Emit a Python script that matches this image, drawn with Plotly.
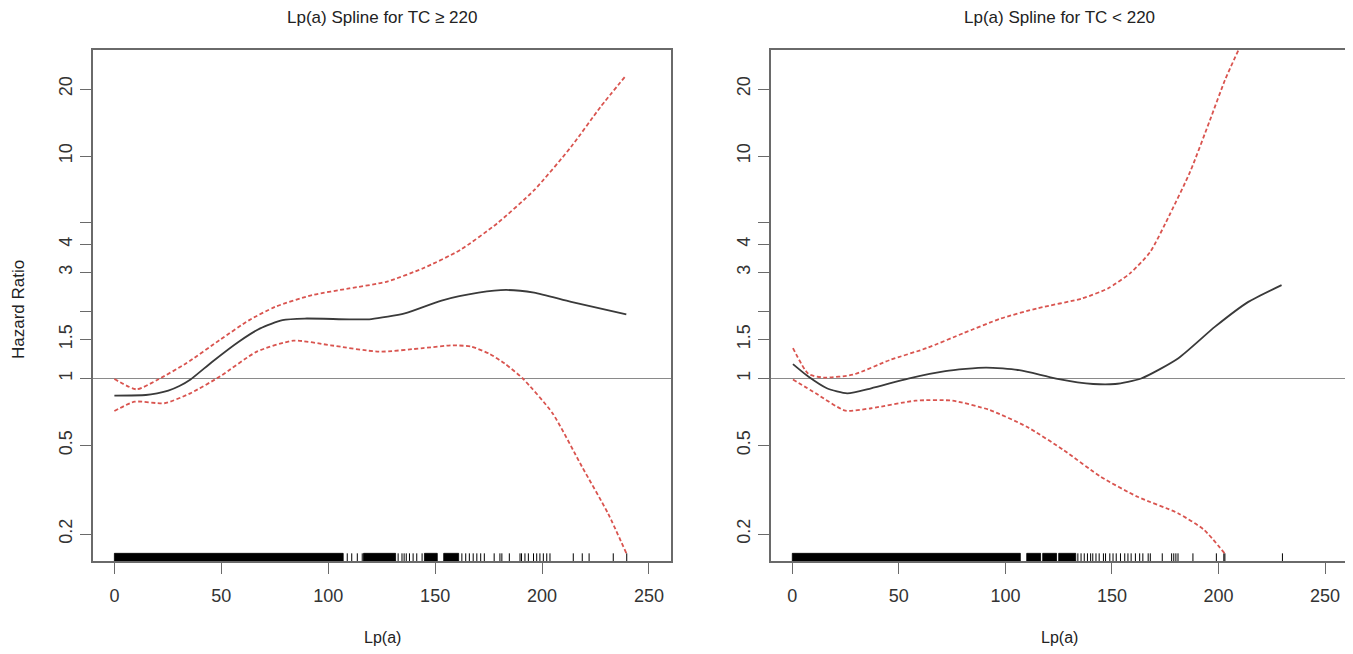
import plotly.graph_objects as go
import math

# ---------------- data ----------------
# Left panel: TC >= 220
left_x = [0, 14.7, 20, 25.2, 30.4, 35.6, 45.8, 58, 68.2, 78.6, 89, 109.8, 120.2, 135.8, 153, 170.3, 183.2, 196.3, 213.6, 239.4]
left_hr = [0.837, 0.843, 0.858, 0.882, 0.925, 0.99, 1.19, 1.46, 1.68, 1.83, 1.86, 1.845, 1.85, 1.96, 2.24, 2.43, 2.50, 2.43, 2.21, 1.94]

left_up_x = [0, 10.4, 20, 33.6, 49.3, 63.1, 75.2, 92.5, 109.8, 127.1, 144.4, 161.7, 179, 196.3, 213.6, 227.3, 239.4]
left_up = [0.995, 0.894, 0.985, 1.17, 1.49, 1.83, 2.10, 2.37, 2.54, 2.72, 3.13, 3.78, 4.98, 7.02, 11.0, 16.6, 23.1]

left_lo_x = [0, 9.5, 23.4, 35.5, 49.3, 66.6, 83.9, 101.2, 123.7, 144.4, 158.2, 167, 175.5, 182.4, 191, 204.9, 218.7, 230.8, 239.4]
left_lo = [0.714, 0.787, 0.774, 0.858, 1.02, 1.32, 1.48, 1.41, 1.32, 1.37, 1.41, 1.39, 1.29, 1.17, 1.0, 0.698, 0.401, 0.248, 0.164]

# Right panel: TC < 220
right_x = [0.3, 7.5, 16.2, 25.8, 37, 54.4, 71.8, 90.9, 106.5, 123.8, 141.2, 151.5, 163.7, 181, 198.4, 214, 229.6]
right_hr = [1.16, 1.02, 0.904, 0.858, 0.904, 1.0, 1.08, 1.12, 1.09, 1.0, 0.945, 0.945, 1.0, 1.23, 1.71, 2.21, 2.63]

right_up_x = [0.3, 7.5, 14.6, 28.4, 45.7, 63.1, 80.4, 97.8, 115.2, 136, 148.1, 158.5, 167.9, 177.3, 186.7, 196, 203, 209.4]
right_up = [1.37, 1.05, 1.01, 1.04, 1.21, 1.37, 1.6, 1.86, 2.07, 2.29, 2.54, 2.97, 3.7, 5.5, 8.5, 14.5, 21.9, 30.0]

right_lo_x = [0.3, 11, 24.9, 37, 57.9, 75.2, 92.6, 110, 127.3, 144.7, 162, 181, 193.2, 202.8]
right_lo = [0.99, 0.858, 0.717, 0.735, 0.795, 0.795, 0.722, 0.607, 0.477, 0.362, 0.294, 0.248, 0.209, 0.164]

# rug (observed Lp(a) values): dense spans and individual ticks
left_rug_spans = [(0, 107), (116.5, 131.5), (145, 151), (154, 161)]
left_rug = [108.9, 111, 113.6, 115.9, 132.7, 134.5, 135.5, 136.5, 138, 139.7, 141.4, 143.9,
            162.5, 164.3, 166, 167.8, 169.5, 171.3, 173, 177.6, 180.3, 181.2, 184.7, 189.7,
            190.4, 192, 193.6, 196, 197.5, 199, 200.6, 202.2, 203.7, 214.6, 218.8, 222, 233.3, 239.6]
right_rug_spans = [(0, 107), (110, 116.5), (117.5, 124), (125, 133)]
right_rug = [134, 135.5, 137, 138.5, 140, 141, 142.5, 144, 146, 147, 149, 150.5, 152, 154, 156,
             157.5, 159, 161, 163, 164.5, 167, 168, 173.6, 178, 179, 180, 181, 188, 199, 202.5, 203, 230]

titles = ["Lp(a) Spline for TC \u2265 220", "Lp(a) Spline for TC < 220"]
x_title = "Lp(a)"
y_title = "Hazard Ratio"
x_ticks = [0, 50, 100, 150, 200, 250]
y_ticks = [0.2, 0.5, 1, 1.5, 2, 3, 4, 5, 10, 20]
y_ticktext = ["0.2", "0.5", "1", "1.5", "", "3", "4", "", "10", "20"]

# ---------------- styling ----------------
W, H = 1353, 654
OFF = 8  # page body margin in the browser
X_RANGE = [-10, 260.3]
Y_BOT, Y_TOP = 0.1513, 29.95
RUG_TOP = 0.1638
CI_COLOR = "#d9544f"
LINE_COLOR = "#3a3a3a"
AXIS_COLOR = "#6a6a6a"
FONT = "Liberation Sans, Arial, sans-serif"


def px_x(p):
    return (p - OFF) / W


def px_y(p):
    return 1 - (p - OFF) / H


fig = go.Figure()


def add_panel(k, xs, hr, ux, up, lx, lo, spans, rug):
    xa = "x" if k == 1 else "x2"
    ya = "y" if k == 1 else "y2"
    fig.add_trace(go.Scatter(x=X_RANGE, y=[1, 1], mode="lines", xaxis=xa, yaxis=ya,
                             line=dict(color="#8a8a8a", width=1.2), showlegend=False, hoverinfo="skip"))
    for a, b in spans:
        fig.add_trace(go.Scatter(x=[a, b, b, a, a], y=[Y_BOT, Y_BOT, RUG_TOP, RUG_TOP, Y_BOT],
                                 mode="lines", fill="toself", fillcolor="black",
                                 line=dict(color="black", width=0.8), xaxis=xa, yaxis=ya,
                                 showlegend=False, hoverinfo="skip"))
    rx, ry = [], []
    for v in rug:
        rx += [v, v, None]
        ry += [Y_BOT, RUG_TOP, None]
    fig.add_trace(go.Scatter(x=rx, y=ry, mode="lines", line=dict(color="black", width=1),
                             xaxis=xa, yaxis=ya, showlegend=False, hoverinfo="skip"))
    ci_line = dict(color=CI_COLOR, width=1.8, dash="4px,2.5px", shape="spline", smoothing=0.6)
    fig.add_trace(go.Scatter(x=ux, y=up, mode="lines", line=ci_line, xaxis=xa, yaxis=ya, showlegend=False))
    fig.add_trace(go.Scatter(x=lx, y=lo, mode="lines", line=ci_line, xaxis=xa, yaxis=ya, showlegend=False))
    fig.add_trace(go.Scatter(x=xs, y=hr, mode="lines",
                             line=dict(color=LINE_COLOR, width=1.8, shape="spline", smoothing=0.6),
                             xaxis=xa, yaxis=ya, showlegend=False))


add_panel(1, left_x, left_hr, left_up_x, left_up, left_lo_x, left_lo, left_rug_spans, left_rug)
add_panel(2, right_x, right_hr, right_up_x, right_up, right_lo_x, right_lo, right_rug_spans, right_rug)

xaxis_common = dict(range=X_RANGE, tickvals=x_ticks, ticktext=[str(t) for t in x_ticks],
                    ticks="outside", ticklen=11, tickwidth=1.3, tickcolor=AXIS_COLOR,
                    showline=True, linecolor=AXIS_COLOR, linewidth=1.5, mirror=True,
                    showgrid=False, zeroline=False, ticklabelstandoff=7,
                    tickfont=dict(family=FONT, size=18, color="#333333"))
yaxis_common = dict(type="log", range=[math.log10(Y_BOT), math.log10(Y_TOP)],
                    tickvals=y_ticks, ticktext=y_ticktext, tickangle=-90,
                    ticks="outside", ticklen=11, tickwidth=1.3, tickcolor=AXIS_COLOR,
                    showline=True, linecolor=AXIS_COLOR, linewidth=1.5, mirror=True,
                    showgrid=False, zeroline=False, ticklabelstandoff=1,
                    tickfont=dict(family=FONT, size=18, color="#333333"),
                    domain=[px_y(561), px_y(50)])

fig.update_layout(
    width=W, height=H,
    margin=dict(l=0, r=0, t=0, b=0),
    paper_bgcolor="white", plot_bgcolor="white",
    xaxis=dict(**xaxis_common, domain=[px_x(93), px_x(671)], anchor="y"),
    yaxis=dict(**yaxis_common, anchor="x"),
    xaxis2=dict(**xaxis_common, domain=[px_x(771), px_x(1347)], anchor="y2"),
    yaxis2=dict(**yaxis_common, anchor="x2"),
    showlegend=False,
)

title_font = dict(family=FONT, size=17, color="#222222")
lab_font = dict(family=FONT, size=16, color="#222222")
common = dict(xref="paper", yref="paper", showarrow=False, xanchor="center", yanchor="middle")
annotations = [
    dict(text=titles[0], x=px_x(382), y=px_y(18), font=title_font, **common),
    dict(text=titles[1], x=px_x(1059), y=px_y(18), font=title_font, **common),
    dict(text=x_title, x=px_x(382), y=px_y(637), font=lab_font, **common),
    dict(text=x_title, x=px_x(1059), y=px_y(637), font=lab_font, **common),
    dict(text=y_title, x=px_x(18), y=px_y(310), textangle=-90, font=dict(family=FONT, size=17, color="#222222"), **common),
]
fig.update_layout(annotations=annotations)

fig.write_html("out.html")
